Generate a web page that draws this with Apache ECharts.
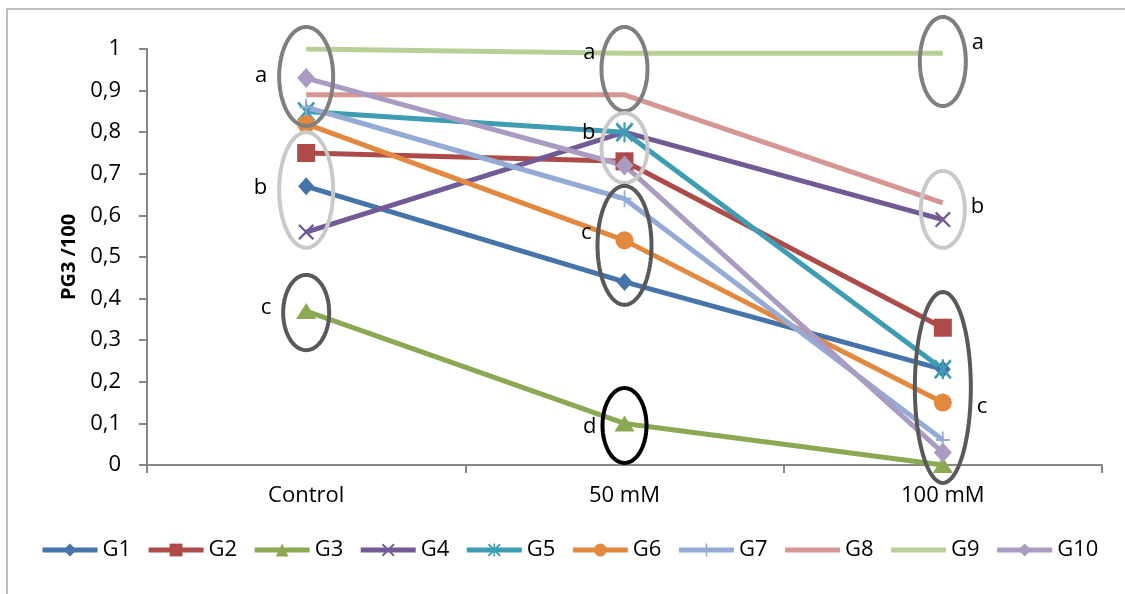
<!DOCTYPE html>
<html>
<head>
<meta charset="utf-8">
<script src="https://cdn.jsdelivr.net/npm/echarts@6/dist/echarts.min.js"></script>
<style>html,body{margin:0;padding:0;background:#fff}#c{width:1125px;height:594px}</style>
</head>
<body>
<div id="c"></div>
<script>
// ---------- data ----------
const categories = ['Control', '50 mM', '100 mM'];
const seriesNames = ['G1','G2','G3','G4','G5','G6','G7','G8','G9','G10'];
const G1  = [0.67, 0.44, 0.23];
const G2  = [0.75, 0.73, 0.33];
const G3  = [0.37, 0.10, 0.00];
const G4  = [0.56, 0.80, 0.59];
const G5  = [0.85, 0.80, 0.23];
const G6  = [0.82, 0.54, 0.15];
const G7  = [0.86, 0.64, 0.06];
const G8  = [0.89, 0.89, 0.63];
const G9  = [1.00, 0.99, 0.99];
const G10 = [0.93, 0.72, 0.03];
const yMin = 0, yMax = 1, yStep = 0.1;
const axisTitle = 'PG3 /100';

// significance-group annotations (ellipse spans and letter positions in value units)
const annCategory   = [0, 0, 0, 1, 1, 1, 1, 2, 2, 2];
const annLow        = [0.815, 0.522, 0.276, 0.851, 0.678, 0.385, 0.005, 0.863, 0.522, -0.043];
const annHigh       = [1.053, 0.800, 0.457, 1.053, 0.846, 0.671, 0.185, 1.077, 0.707, 0.416];
const annLetter     = ['a', 'b', 'c', 'a', 'b', 'c', 'd', 'a', 'b', 'c'];
const annLetterAt   = [0.935, 0.666, 0.377, 0.990, 0.798, 0.558, 0.091, 1.014, 0.620, 0.139];

// ---------- styles ----------
const colors = ['#4674AA','#AE4B48','#8BA953','#715A95','#3E9DB3','#E3883F','#93ABD5','#D59694','#B9CF98','#A99BC1'];
const pX = 'path://M0,1L1,0L5,4L9,0L10,1L6,5L10,9L9,10L5,6L1,10L0,9L4,5Z';
const pStar = 'path://M0,1L1,0L5,4L9,0L10,1L6,5L10,9L9,10L5,6L1,10L0,9L4,5ZM4.4,0L5.6,0L5.6,10L4.4,10Z';
const pPlus = 'path://M4.4,0L5.6,0L5.6,4.4L10,4.4L10,5.6L5.6,5.6L5.6,10L4.4,10L4.4,5.6L0,5.6L0,4.4L4.4,4.4Z';
const symbols = ['diamond','rect','triangle',pX,pStar,'circle',pPlus,'none','none','diamond'];
const symbolSizes = [[16,18],18,[20,16],16,[18,20],18,[14,17],0,0,[18,20]];
const ellipseRx = [27, 27, 23, 23, 23, 27, 22, 23, 22, 28];
const ellipseColor = {a:'#7f7f7f', b:'#c9c9c9', c:'#595959', d:'#000000'};
const labelGap = [12, 6, 6];
const FONT = '"Open Sans", "Noto Sans", sans-serif';

const values = [G1,G2,G3,G4,G5,G6,G7,G8,G9,G10];

const chart = echarts.init(document.getElementById('c'), null, {renderer: 'canvas'});

const lineSeries = seriesNames.map((n, i) => ({
  name: n,
  type: 'line',
  data: values[i],
  symbol: symbols[i],
  symbolSize: symbolSizes[i],
  showSymbol: symbols[i] !== 'none',
  lineStyle: {width: 5, color: colors[i]},
  itemStyle: {color: colors[i]},
  emphasis: {disabled: true},
  animation: false
}));

const annData = annCategory.map((c, i) => [c, annLow[i], annHigh[i], annLetterAt[i], i]);

const annSeries = {
  type: 'custom',
  name: 'groups',
  data: annData,
  encode: {x: 0, y: [1, 2]},
  clip: false,
  z: 10,
  silent: true,
  animation: false,
  renderItem: function (params, api) {
    const ci = api.value(0);
    const idx = api.value(4);
    const top = api.coord([ci, api.value(2)]);
    const bot = api.coord([ci, api.value(1)]);
    const lab = api.coord([ci, api.value(3)]);
    const cx = top[0];
    const cy = (top[1] + bot[1]) / 2;
    const ry = (bot[1] - top[1]) / 2;
    const rx = ellipseRx[idx];
    const pts = [];
    for (let k = 0; k < 96; k++) {
      const t = k / 96 * Math.PI * 2;
      pts.push([cx + rx * Math.cos(t), cy + ry * Math.sin(t)]);
    }
    const letter = annLetter[idx];
    const side = ci === 2 ? 1 : -1;
    return {
      type: 'group',
      children: [
        {type: 'polygon', shape: {points: pts},
         style: {fill: 'none', stroke: ellipseColor[letter], lineWidth: 4}},
        {type: 'text', x: cx + side * (rx + labelGap[ci]), y: lab[1],
         style: {text: letter, fill: '#000', font: '22px ' + FONT,
                 align: side < 0 ? 'right' : 'left', verticalAlign: 'middle'}}
      ]
    };
  }
};

const legendData = seriesNames.map((n, i) =>
  symbols[i] === 'none' ? {name: n, itemStyle: {opacity: 0}} : {name: n});

chart.setOption({
  backgroundColor: '#ffffff',
  animation: false,
  textStyle: {fontFamily: FONT},
  graphic: [{
    type: 'polyline',
    shape: {points: [[7, 600], [7, 9], [1125, 9]]},
    style: {fill: 'none', stroke: '#a6a6a6', lineWidth: 1.5},
    silent: true
  }],
  grid: {left: 147, top: 49, width: 955, height: 416},
  legend: {
    data: legendData,
    left: 40,
    top: 539,
    padding: 0,
    itemWidth: 55,
    itemHeight: 16,
    itemGap: 15,
    lineStyle: {width: 5},
    textStyle: {fontSize: 22, color: '#000', fontFamily: FONT},
    selectedMode: false
  },
  xAxis: {
    type: 'category',
    data: categories,
    boundaryGap: true,
    axisLine: {lineStyle: {color: '#878787', width: 2}},
    axisTick: {show: true, length: 8, lineStyle: {color: '#878787', width: 2}},
    axisLabel: {fontSize: 22, color: '#000', margin: 20, fontFamily: FONT},
    splitLine: {show: false}
  },
  yAxis: {
    type: 'value',
    min: yMin, max: yMax, interval: yStep,
    name: axisTitle,
    nameLocation: 'middle',
    nameGap: 68,
    nameTextStyle: {fontSize: 20, fontWeight: 'bold', color: '#000', fontFamily: FONT},
    axisLine: {show: true, lineStyle: {color: '#878787', width: 2}},
    axisTick: {show: true, length: 8, lineStyle: {color: '#878787', width: 2}},
    axisLabel: {fontSize: 22, color: '#000', margin: 26, fontFamily: FONT,
      formatter: v => String(Math.round(v * 10) / 10).replace('.', ',')},
    splitLine: {show: false}
  },
  tooltip: {show: false},
  series: lineSeries.concat([annSeries])
});
</script>
</body>
</html>
